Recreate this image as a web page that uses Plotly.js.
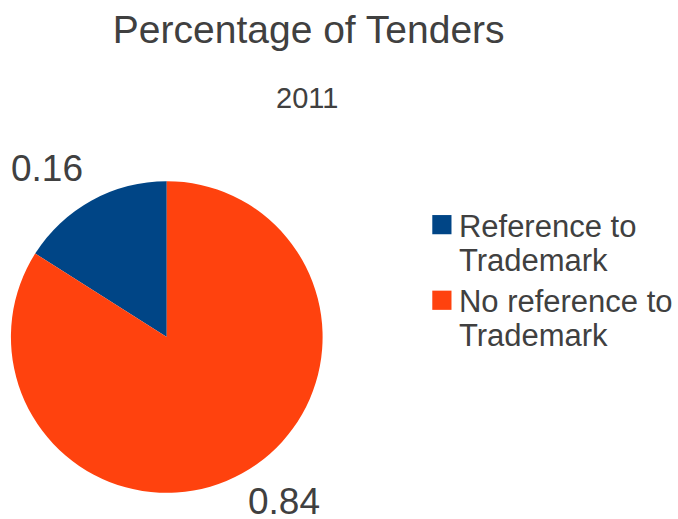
<!DOCTYPE html>
<html>
<head>
<meta charset="utf-8">
<script src="https://cdn.plot.ly/plotly-3.0.1.min.js"></script>
<style>html,body{margin:0;padding:0;background:#fff;}#chart{width:678px;height:519px;}</style>
</head>
<body>
<div id="chart"></div>
<script>
const categories = ['Reference to<br>Trademark', 'No reference to<br>Trademark'];
const shares = [0.16, 0.84];
const colors = ['#004586', '#ff420e'];
const chartTitle = 'Percentage of Tenders';
const subTitle = '2011';

const W = 678, H = 519;
const font = 'Liberation Sans, Arial, sans-serif';
const textColor = '#404040';

// value labels placed outside the pie like the reference
const labelPos = [{x: 47 / W, y: 1 - 168 / H}, {x: 286 / W, y: 1 - 501 / H}];

// first slice ends at 12 o'clock (it is drawn to the left of the top)
const startRotation = -shares[0] / shares.reduce(function (a, b) { return a + b; }, 0) * 360;

const data = [{
  type: 'pie',
  labels: categories,
  values: shares,
  sort: false,
  direction: 'clockwise',
  rotation: startRotation,
  marker: {colors: colors, line: {width: 0}},
  textinfo: 'none',
  hoverinfo: 'none',
  domain: {x: [11 / W, 325 / W], y: [1 - 494 / H, 1 - 180 / H]},
  automargin: false
}];

const annotations = shares.map(function (v, i) {
  return {
    text: String(v), showarrow: false, xref: 'paper', yref: 'paper',
    x: labelPos[i].x, y: labelPos[i].y, xanchor: 'center', yanchor: 'middle',
    font: {size: 37, color: textColor, family: font}
  };
});
annotations.push({
  text: subTitle, showarrow: false,
  xref: 'paper', yref: 'paper',
  x: 309 / W, y: 1 - 98 / H, xanchor: 'center', yanchor: 'middle',
  font: {size: 29, color: textColor, family: font}
});

const layout = {
  width: W, height: H,
  margin: {l: 0, r: 0, t: 0, b: 0},
  paper_bgcolor: '#ffffff',
  font: {family: font, color: textColor},
  title: {
    text: chartTitle,
    font: {size: 39, color: textColor, family: font},
    x: 311 / W, xanchor: 'center', xref: 'paper',
    y: 1 - 29 / H, yanchor: 'middle', yref: 'container'
  },
  annotations: annotations,
  showlegend: true,
  legend: {
    x: 422 / W, y: 1 - 198 / H, xanchor: 'left', yanchor: 'top',
    font: {size: 31, color: textColor, family: font},
    bgcolor: 'rgba(0,0,0,0)',
    valign: 'top',
    tracegroupgap: 0,
    itemwidth: 30
  }
};

Plotly.newPlot('chart', data, layout, {staticPlot: true}).then(function (gd) {
  document.querySelectorAll('.legendpoints path').forEach(function (p) {
    p.setAttribute('transform', 'translate(23,0) scale(1.6)');
  });
  document.querySelectorAll('.legend text.legendtext tspan.line').forEach(function (t) {
    const dy = t.getAttribute('dy');
    if (dy && dy.indexOf('em') > 0) {
      const v = parseFloat(dy);
      if (v !== 0) t.setAttribute('dy', (v * 34 / (31 * 1.3)).toFixed(3) + 'em');
    }
  });
  document.querySelectorAll('.legend g.traces').forEach(function (g, i) {
    if (i === 0) return;
    const tr = g.getAttribute('transform') || '';
    const m = tr.match(/translate\(\s*([-\d.]+)[ ,]+([-\d.]+)\s*\)/);
    if (m) g.setAttribute('transform', 'translate(' + m[1] + ',' + (parseFloat(m[2]) - 8 * i) + ')');
  });
});
</script>
</body>
</html>
